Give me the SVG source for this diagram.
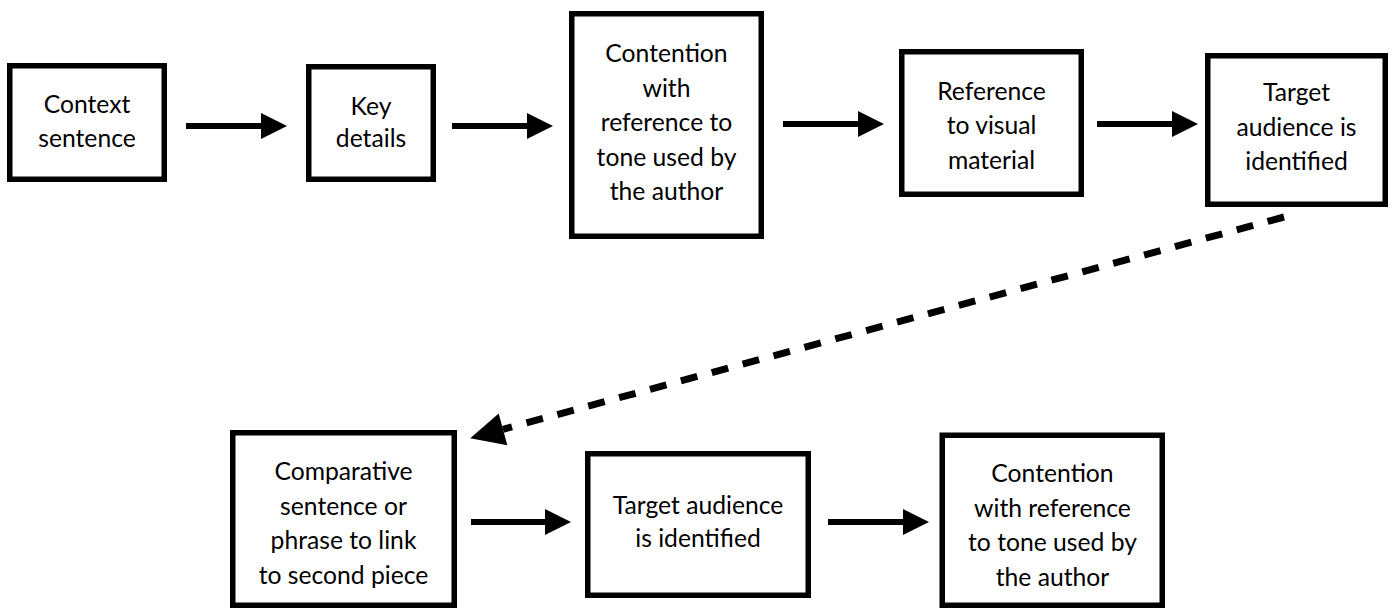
<svg xmlns="http://www.w3.org/2000/svg" width="1395" height="611" viewBox="0 0 1395 611">
<style>
.box{fill:#fff;stroke:#000;stroke-width:5.5}
.lbl{font-family:Lato,"Liberation Sans",sans-serif;font-size:24.7px;fill:#000;text-anchor:middle}
.arr{stroke:#000;stroke-width:6;fill:none}
.dash{stroke:#000;stroke-width:7;fill:none;stroke-dasharray:17 15}
</style>
<defs>
<marker id="ah" markerUnits="userSpaceOnUse" markerWidth="26" markerHeight="26" refX="0" refY="13" orient="auto" overflow="visible">
<path d="M0,0 L26,13 L0,26 Z" fill="#000"/>
</marker>
<marker id="ahd" markerUnits="userSpaceOnUse" markerWidth="34" markerHeight="33" refX="0" refY="16.5" orient="auto" overflow="visible">
<path d="M0,0 L34,16.5 L0,33 Z" fill="#000"/>
</marker>
</defs>
<rect width="1395" height="611" fill="#fff"/>
<g id="connectors">
<line class="arr" x1="186" y1="126" x2="261" y2="126" marker-end="url(#ah)"/>
<line class="arr" x1="452" y1="126" x2="527" y2="126" marker-end="url(#ah)"/>
<line class="arr" x1="783" y1="124" x2="858" y2="124" marker-end="url(#ah)"/>
<line class="arr" x1="1097" y1="124" x2="1172" y2="124" marker-end="url(#ah)"/>
<line class="dash" x1="1284" y1="217" x2="503" y2="429.3" marker-end="url(#ahd)"/>
<line class="arr" x1="471" y1="522" x2="545" y2="522" marker-end="url(#ah)"/>
<line class="arr" x1="828" y1="522" x2="903" y2="522" marker-end="url(#ah)"/>
</g>
<g id="n1">
<rect class="box" x="9.75" y="65.75" width="154.5" height="113.5"/>
<text class="lbl" x="87" y="113">Context</text>
<text class="lbl" x="87" y="147">sentence</text>
</g>
<g id="n2">
<rect class="box" x="308.75" y="66.75" width="124.5" height="112.5"/>
<text class="lbl" x="371" y="115">Key</text>
<text class="lbl" x="371" y="147">details</text>
</g>
<g id="n3">
<rect class="box" x="571.75" y="13.75" width="189.5" height="222.5"/>
<text class="lbl" x="666.5" y="62">Contention</text>
<text class="lbl" x="666.5" y="96.5">with</text>
<text class="lbl" x="666.5" y="131">reference to</text>
<text class="lbl" x="666.5" y="165.5">tone used by</text>
<text class="lbl" x="666.5" y="200">the author</text>
</g>
<g id="n4">
<rect class="box" x="901.75" y="51.75" width="179.5" height="142.5"/>
<text class="lbl" x="991.5" y="99.5">Reference</text>
<text class="lbl" x="991.5" y="134">to visual</text>
<text class="lbl" x="991.5" y="168.5">material</text>
</g>
<g id="n5">
<rect class="box" x="1207.75" y="55.75" width="177.5" height="148.5"/>
<text class="lbl" x="1296.5" y="101">Target</text>
<text class="lbl" x="1296.5" y="135.5">audience is</text>
<text class="lbl" x="1296.5" y="170">identified</text>
</g>
<g id="n6">
<rect class="box" x="232.75" y="432.75" width="221.5" height="172.5"/>
<text class="lbl" x="343.5" y="480">Comparative</text>
<text class="lbl" x="343.5" y="514.5">sentence or</text>
<text class="lbl" x="343.5" y="549">phrase to link</text>
<text class="lbl" x="343.5" y="583.5">to second piece</text>
</g>
<g id="n7">
<rect class="box" x="587.75" y="453.75" width="220.5" height="141.5"/>
<text class="lbl" x="698" y="513.5">Target audience</text>
<text class="lbl" x="698" y="547">is identified</text>
</g>
<g id="n8">
<rect class="box" x="942.25" y="435.25" width="220" height="170"/>
<text class="lbl" x="1052.5" y="482">Contention</text>
<text class="lbl" x="1052.5" y="516.5">with reference</text>
<text class="lbl" x="1052.5" y="551">to tone used by</text>
<text class="lbl" x="1052.5" y="585.5">the author</text>
</g>
</svg>
